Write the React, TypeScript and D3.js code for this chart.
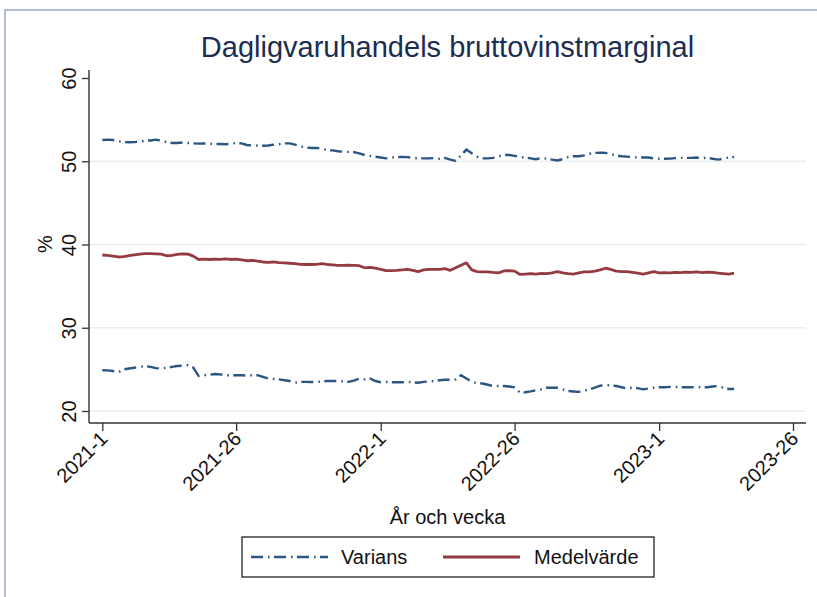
import React, { useEffect, useRef } from 'react';
import * as d3 from 'd3';

// week index 0 = 2021-1
const tickWeeks = [0, 25, 52, 77, 104, 129];
const tickLabels = ['2021-1', '2021-26', '2022-1', '2022-26', '2023-1', '2023-26'];
const yTicks = [20, 30, 40, 50, 60];

const medelvarde = [
  38.74, 38.7, 38.6, 38.5, 38.55, 38.65, 38.75, 38.85, 38.9, 38.9,
  38.88, 38.85, 38.65, 38.7, 38.82, 38.88, 38.85, 38.6, 38.2, 38.25,
  38.2, 38.25, 38.22, 38.28, 38.2, 38.25, 38.15, 38.05, 38.08, 38.0,
  37.9, 37.85, 37.9, 37.82, 37.8, 37.75, 37.7, 37.62, 37.6, 37.6,
  37.62, 37.7, 37.6, 37.55, 37.5, 37.5, 37.52, 37.5, 37.45, 37.2,
  37.25, 37.15, 37.0, 36.85, 36.85, 36.88, 36.95, 37.0, 36.9, 36.75,
  36.95, 37.0, 37.02, 37.0, 37.1, 36.9, 37.2, 37.5, 37.8, 36.95,
  36.75, 36.7, 36.72, 36.65, 36.6, 36.82, 36.85, 36.8, 36.4, 36.45,
  36.5, 36.45, 36.52, 36.5, 36.6, 36.75, 36.6, 36.5, 36.45, 36.6,
  36.7, 36.72, 36.8, 36.95, 37.15, 37.0, 36.8, 36.75, 36.75, 36.65,
  36.55, 36.45, 36.6, 36.75, 36.6, 36.62, 36.6, 36.65, 36.62, 36.68,
  36.65, 36.7, 36.62, 36.68, 36.65, 36.55, 36.5, 36.45, 36.55
];

const variansUpper = [
  52.55, 52.6, 52.55, 52.4, 52.3, 52.28, 52.3, 52.35, 52.47, 52.5,
  52.6, 52.45, 52.3, 52.2, 52.2, 52.25, 52.2, 52.15, 52.12, 52.15,
  52.1, 52.08, 52.07, 52.05, 52.1, 52.2, 52.15, 51.95, 51.9, 51.88,
  51.87, 51.9, 52.0, 52.05, 52.15, 52.15, 52.0, 51.8, 51.65, 51.6,
  51.6, 51.5, 51.35, 51.3, 51.2, 51.15, 51.12, 51.1, 50.95, 50.75,
  50.65, 50.55, 50.45, 50.35, 50.45, 50.5, 50.52, 50.5, 50.42, 50.35,
  50.35, 50.35, 50.38, 50.3, 50.4, 50.2, 50.05, 50.7, 51.4, 50.95,
  50.55, 50.35, 50.35, 50.4, 50.6, 50.75, 50.75, 50.65, 50.5, 50.45,
  50.35, 50.25, 50.4, 50.3, 50.2, 50.1, 50.25, 50.5, 50.6, 50.6,
  50.7, 50.9, 51.0, 51.02, 51.0, 50.85, 50.7, 50.6, 50.55, 50.5,
  50.45, 50.45, 50.45, 50.35, 50.3, 50.3, 50.32, 50.38, 50.4, 50.4,
  50.4, 50.45, 50.35, 50.45, 50.3, 50.2, 50.3, 50.45, 50.5
];

const variansLower = [
  24.9, 24.88, 24.8, 24.65, 25.0, 25.1, 25.2, 25.3, 25.4, 25.3,
  25.15, 25.1, 25.2, 25.3, 25.4, 25.45, 25.5, 25.2, 24.2, 24.3,
  24.35, 24.45, 24.4, 24.3, 24.3, 24.3, 24.3, 24.25, 24.3, 24.3,
  24.1, 23.9, 23.85, 23.8, 23.7, 23.6, 23.4, 23.5, 23.5, 23.48,
  23.5, 23.55, 23.6, 23.6, 23.6, 23.55, 23.5, 23.65, 23.9, 23.8,
  23.9, 23.6, 23.45, 23.5, 23.45, 23.45, 23.45, 23.5, 23.45, 23.4,
  23.5, 23.55, 23.6, 23.7, 23.75, 23.75, 23.8, 24.3, 23.9, 23.5,
  23.35, 23.3, 23.15, 23.0, 23.0, 23.0, 22.95, 22.85, 22.2, 22.25,
  22.35, 22.5, 22.6, 22.8, 22.8, 22.8, 22.6, 22.4, 22.35, 22.3,
  22.45, 22.6, 22.8, 23.05, 23.1, 23.1, 23.0, 22.85, 22.7, 22.8,
  22.75, 22.6, 22.7, 22.8, 22.85, 22.85, 22.9, 22.9, 22.85, 22.85,
  22.85, 22.9, 22.85, 22.85, 22.95, 23.0, 22.8, 22.65, 22.65
];

const FONT = '"Liberation Sans", Arial, sans-serif';
const NAVY = '#2b5582';
const MAROON = '#943b42';
const DASHDOT = '12,5,1.6,4.4';

export default function App() {
  const ref = useRef<SVGSVGElement>(null);

  useEffect(() => {
    const svg = d3.select(ref.current);
    svg.selectAll('*').remove();

    const left = 89, right = 806, top = 70, bottom = 423;

    const x = d3.scaleLinear().domain([0, 129]).range([102.3, 793]);
    const y = d3.scaleLinear().domain([20, 60]).range([411, 78]);

    // frame
    svg.append('rect')
      .attr('x', 5).attr('y', 10).attr('width', 900).attr('height', 700)
      .attr('fill', 'white').attr('stroke', '#9aaacc').attr('stroke-width', 1.5);

    // gridlines
    svg.append('g').selectAll('line')
      .data(yTicks.filter(d => d < 60))
      .join('line')
      .attr('x1', left).attr('x2', right)
      .attr('y1', d => y(d)).attr('y2', d => y(d))
      .attr('stroke', '#e9eff1').attr('stroke-width', 1.6);

    // series
    const line = d3.line<number>()
      .x((d, i) => x(i))
      .y(d => y(d));

    svg.append('path').datum(variansUpper)
      .attr('d', line).attr('fill', 'none')
      .attr('stroke', NAVY).attr('stroke-width', 2.4)
      .attr('stroke-dasharray', DASHDOT);
    svg.append('path').datum(variansLower)
      .attr('d', line).attr('fill', 'none')
      .attr('stroke', NAVY).attr('stroke-width', 2.4)
      .attr('stroke-dasharray', DASHDOT);
    svg.append('path').datum(medelvarde)
      .attr('d', line).attr('fill', 'none')
      .attr('stroke', MAROON).attr('stroke-width', 2.8)
      .attr('stroke-linejoin', 'round');

    // y axis
    const yAxis = svg.append('g')
      .attr('transform', `translate(${left},0)`)
      .call(d3.axisLeft(y).tickValues(yTicks).tickSize(7).tickFormat(d3.format('d')));
    yAxis.select('.domain').remove();
    yAxis.selectAll('line').attr('stroke', '#333').attr('stroke-width', 1.3);
    yAxis.selectAll('text')
      .attr('x', 0).attr('y', 0).attr('dy', 0)
      .attr('transform', 'translate(-13,0) rotate(-90)')
      .attr('text-anchor', 'middle')
      .attr('font-family', FONT).attr('font-size', 20).attr('fill', '#111');

    // x axis
    const xAxis = svg.append('g')
      .attr('transform', `translate(0,${bottom})`)
      .call(d3.axisBottom(x).tickValues(tickWeeks).tickSize(8)
        .tickFormat((d, i) => tickLabels[i]));
    xAxis.select('.domain').remove();
    xAxis.selectAll('line').attr('stroke', '#333').attr('stroke-width', 1.3);
    xAxis.selectAll('text')
      .attr('x', 0).attr('y', 0).attr('dy', 0)
      .attr('transform', 'translate(6,17) rotate(-45)')
      .attr('text-anchor', 'end')
      .attr('font-family', FONT).attr('font-size', 20).attr('fill', '#111');

    // axis lines
    svg.append('line')
      .attr('x1', left).attr('x2', left).attr('y1', top).attr('y2', bottom)
      .attr('stroke', '#333').attr('stroke-width', 1.4);
    svg.append('line')
      .attr('x1', left).attr('x2', right).attr('y1', bottom).attr('y2', bottom)
      .attr('stroke', '#333').attr('stroke-width', 1.4);

    // titles
    svg.append('text')
      .attr('x', 447.5).attr('y', 57)
      .attr('text-anchor', 'middle')
      .attr('font-family', FONT).attr('font-size', 29).attr('fill', '#1c2d52')
      .text('Dagligvaruhandels bruttovinstmarginal');

    svg.append('text')
      .attr('transform', 'translate(52,244) rotate(-90)')
      .attr('text-anchor', 'middle')
      .attr('font-family', FONT).attr('font-size', 20).attr('fill', '#111')
      .text('%');

    svg.append('text')
      .attr('x', 447.5).attr('y', 524)
      .attr('text-anchor', 'middle')
      .attr('font-family', FONT).attr('font-size', 20).attr('fill', '#111')
      .text('År och vecka');

    // legend
    const legend = svg.append('g');
    legend.append('rect')
      .attr('x', 242).attr('y', 537).attr('width', 412).attr('height', 40)
      .attr('fill', 'white').attr('stroke', '#111').attr('stroke-width', 1.2);
    legend.append('line')
      .attr('x1', 251).attr('x2', 328).attr('y1', 557).attr('y2', 557)
      .attr('stroke', NAVY).attr('stroke-width', 2.4)
      .attr('stroke-dasharray', DASHDOT);
    legend.append('text')
      .attr('x', 341).attr('y', 564)
      .attr('font-family', FONT).attr('font-size', 20).attr('fill', '#111')
      .text('Varians');
    legend.append('line')
      .attr('x1', 443).attr('x2', 520).attr('y1', 557).attr('y2', 557)
      .attr('stroke', MAROON).attr('stroke-width', 2.8);
    legend.append('text')
      .attr('x', 534).attr('y', 564)
      .attr('font-family', FONT).attr('font-size', 20).attr('fill', '#111')
      .text('Medelvärde');
  }, []);

  return (
    <svg
      ref={ref}
      width={817}
      height={597}
      style={{ position: 'absolute', left: 0, top: 0, background: 'white' }}
    />
  );
}
